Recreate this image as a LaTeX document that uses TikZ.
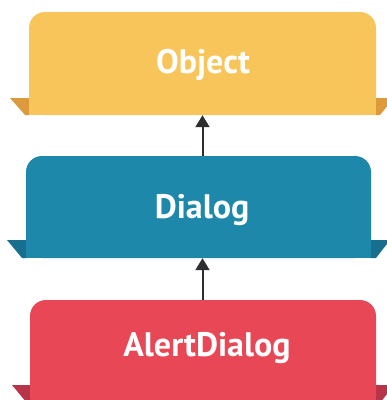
\documentclass[tikz,border=0pt]{standalone}
\usepackage{fontspec}
\setmainfont{PT Sans}
\usetikzlibrary{arrows.meta}
\definecolor{objc}{HTML}{F8C55B}
\definecolor{objf}{HTML}{DC9A3C}
\definecolor{dlgc}{HTML}{1E88AB}
\definecolor{dlgf}{HTML}{166F8E}
\definecolor{alc}{HTML}{E84855}
\definecolor{alf}{HTML}{B83449}
\definecolor{arrc}{HTML}{2E2E2E}
\tikzset{
  boxnode/.style={rectangle, inner sep=0pt, rounded corners=16pt},
  lbl/.style={text=white, font=\bfseries\fontsize{34}{38}\selectfont, anchor=base, inner sep=0pt},
  arr/.style={-{Triangle[width=14pt,length=12pt]}, line width=2pt, draw=arrc},
}
\begin{document}
\begin{tikzpicture}[x=1pt,y=-1pt]
\useasboundingbox (0,0) rectangle (387,400);
\clip (0,0) rectangle (387,400);
% flaps
\fill[objf] (10,98) -- (30,98) -- (30,115) -- (25,115) -- cycle;
\fill[objf] (375,98) -- (394,98) -- (380,115) -- (375,115) -- cycle;
\fill[dlgf] (7,240) -- (27,240) -- (27,258) -- (22,258) -- cycle;
\fill[dlgf] (370,240) -- (390,240) -- (376,258) -- (370,258) -- cycle;
\fill[alf] (12,385) -- (31,385) -- (31,403) -- (27,403) -- cycle;
\fill[alf] (375,385) -- (394,385) -- (380,403) -- (375,403) -- cycle;
% boxes
\node[boxnode, fill=objc, minimum width=347pt, minimum height=103pt] (objbox) at (202.5,63.5) {};
\fill[objc] (objbox.west) rectangle (objbox.south east);
\node[boxnode, fill=dlgc, minimum width=345pt, minimum height=102pt] (dlgbox) at (198.5,207) {};
\fill[dlgc] (dlgbox.west) rectangle (dlgbox.south east);
\node[boxnode, fill=alc, minimum width=346pt, minimum height=110pt] (albox) at (203,355) {};
\fill[alc] (albox.west) rectangle (albox.south east);
% labels
\node[lbl] (obj) at (203,73) {Object};
\node[lbl] (dlg) at (202,218) {Dialog};
\node[lbl] (al) at (207,356) {AlertDialog};
% connectors
\draw[arr] (dlgbox.north -| objbox.south) -- (objbox.south);
\draw[arr] (albox.north -| objbox.south) -- (dlgbox.south -| objbox.south);
\end{tikzpicture}
\end{document}
